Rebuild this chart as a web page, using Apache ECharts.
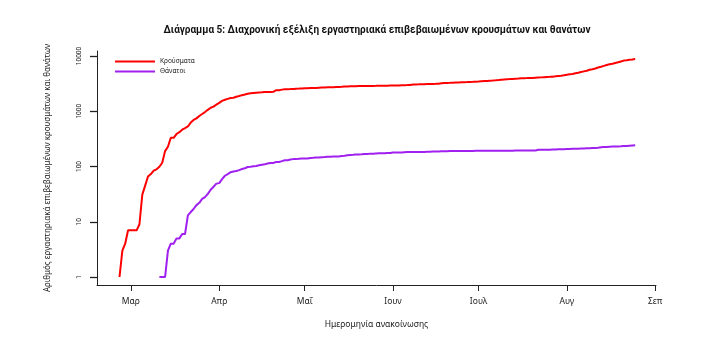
<!DOCTYPE html>
<html><head><meta charset="utf-8">
<script src="https://cdn.jsdelivr.net/npm/echarts@6/dist/echarts.min.js"></script>
<style>html,body{margin:0;padding:0;background:#fff}#c{width:703px;height:346px}</style>
</head><body><div id="c"></div>
<script>
const titleText = 'Διάγραμμα 5: Διαχρονική εξέλιξη εργαστηριακά επιβεβαιωμένων κρουσμάτων και θανάτων';
const xAxisTitle = 'Ημερομηνία ανακοίνωσης';
const yAxisTitle = 'Αριθμός εργαστηριακά επιβεβαιωμένων κρουσμάτων και θανάτων';
const seriesNames = ['Κρούσματα', 'Θάνατοι'];
const monthLabels = ['Μαρ', 'Απρ', 'Μαΐ', 'Ιουν', 'Ιουλ', 'Αυγ', 'Σεπ'];
const monthStarts = ['2020-03-01', '2020-04-01', '2020-05-01', '2020-06-01', '2020-07-01', '2020-08-01', '2020-09-01'];

// Cumulative cases, one value per day starting at caseStart
const caseStart = '2020-02-26';
const cases = [
  1, 3, 4, 7,
  7, 7, 7, 9, 31, 45, 66, 73, 84, 89, 99, 117, 190, 228, 331, 331, 387, 418, 464, 495, 530, 624, 695, 743, 821, 892, 966, 1061, 1156, 1212, 1314,
  1415, 1544, 1613, 1673, 1735, 1755, 1832, 1884, 1955, 2011, 2081, 2114, 2145, 2170, 2192, 2207, 2224, 2235, 2235, 2245, 2401, 2408, 2463, 2490, 2506, 2517, 2534, 2566, 2576, 2591,
  2612, 2620, 2626, 2632, 2642, 2663, 2678, 2691, 2710, 2716, 2726, 2744, 2760, 2770, 2810, 2819, 2834, 2836, 2840, 2850, 2853, 2853, 2874, 2876, 2878, 2882, 2892, 2903, 2906, 2909, 2915,
  2917, 2918, 2937, 2952, 2967, 2980, 2997, 3049, 3058, 3068, 3083, 3088, 3102, 3112, 3121, 3134, 3148, 3203, 3237, 3256, 3266, 3287, 3302, 3310, 3343, 3366, 3376, 3390, 3409, 3432,
  3458, 3486, 3511, 3519, 3562, 3590, 3622, 3672, 3732, 3772, 3803, 3826, 3854, 3883, 3910, 3939, 3964, 3983, 4007, 4012, 4048, 4077, 4103, 4135, 4166, 4193, 4227, 4279, 4336, 4381, 4477,
  4587, 4662, 4737, 4855, 4977, 5123, 5270, 5421, 5623, 5749, 5942, 6177, 6381, 6632, 6858, 7075, 7222, 7472, 7684, 7975, 8259, 8381, 8544, 8649, 8810
];

// Cumulative deaths, one value per day starting at deathStart
const deathStart = '2020-03-11';
const deaths = [
  1, 1, 1, 3, 4, 4, 5, 5, 6, 6, 13, 15, 17, 20, 22, 26, 28, 32, 38, 43, 49,
  50, 59, 68, 73, 79, 81, 83, 86, 90, 93, 98, 99, 101, 102, 105, 108, 110, 113, 116, 116, 121, 121, 125, 130, 130, 134, 136, 136, 138, 139,
  140, 140, 143, 144, 146, 146, 147, 148, 150, 150, 151, 151, 152, 155, 156, 160, 162, 163, 165, 165, 166, 168, 169, 171, 171, 172, 173, 173, 173, 175, 175,
  179, 179, 180, 180, 182, 183, 183, 183, 183, 183, 183, 183, 184, 184, 186, 187, 187, 188, 188, 189, 190, 190, 190, 190, 190, 190, 190, 191, 191, 192,
  192, 192, 192, 192, 192, 192, 192, 192, 193, 193, 193, 193, 193, 194, 194, 194, 194, 195, 195, 195, 195, 201, 201, 202, 202, 202, 203, 203, 206, 206, 206,
  208, 208, 209, 210, 210, 211, 212, 213, 213, 216, 216, 218, 223, 226, 226, 228, 229, 230, 231, 232, 235, 236, 238, 240, 242
];

const DAY = 86400000;
const ORIGIN = Date.UTC(2020, 2, 1);
function dayOf(s) { const p = s.split('-').map(Number); return (Date.UTC(p[0], p[1] - 1, p[2]) - ORIGIN) / DAY; }
function toPairs(start, vals) { const d0 = dayOf(start); return vals.map((v, i) => [d0 + i, v]); }
const monthDays = monthStarts.map(dayOf);
const XMIN = -11.9, XMAX = 184.3;
const FONT = "'Noto Sans', 'DejaVu Sans', sans-serif";
const AXC = '#222';

const chart = echarts.init(document.getElementById('c'), null, { renderer: 'canvas' });
chart.setOption({
  animation: false,
  backgroundColor: '#fff',
  title: {
    text: titleText, left: 377, top: 25, textAlign: 'center', padding: 0,
    textStyle: { fontFamily: "Roboto, 'Noto Sans', sans-serif", fontWeight: 'bold', fontSize: 10, color: '#111' }
  },
  legend: {
    orient: 'vertical', left: 110, top: 53, itemWidth: 40, itemHeight: 2, itemGap: 3, icon: 'rect',
    data: seriesNames, textStyle: { fontFamily: FONT, fontSize: 6.5, color: '#222' }
  },
  grid: [
    { left: 97, right: 47, top: 51, bottom: 61 },
    { left: 97, right: 47, top: 56, bottom: 69 }
  ],
  xAxis: [
    {
      gridIndex: 0, type: 'value', min: XMIN, max: XMAX,
      axisLine: { show: true, onZero: false, lineStyle: { color: AXC, width: 1 } },
      axisTick: { show: true, length: 6, customValues: monthDays, lineStyle: { color: AXC } },
      axisLabel: {
        customValues: monthDays, margin: 12, fontSize: 8.5, fontFamily: FONT, color: '#222',
        formatter: v => { const i = monthDays.findIndex(d => Math.abs(d - v) < 0.01); return i >= 0 ? monthLabels[i] : ''; }
      },
      splitLine: { show: false },
      name: xAxisTitle, nameLocation: 'middle', nameGap: 35,
      nameTextStyle: { fontFamily: FONT, fontSize: 8.5, color: '#222' }
    },
    { gridIndex: 1, type: 'value', min: XMIN, max: XMAX, show: false, axisLine: { onZero: false } }
  ],
  yAxis: [
    {
      gridIndex: 0, type: 'value', min: 0, max: 1,
      axisLine: { show: true, onZero: false, lineStyle: { color: AXC, width: 1 } },
      axisTick: { show: false }, axisLabel: { show: false }, splitLine: { show: false },
      name: yAxisTitle, nameLocation: 'middle', nameGap: 45,
      nameTextStyle: { fontFamily: FONT, fontSize: 8, color: '#222' }
    },
    {
      gridIndex: 1, type: 'log', logBase: 10, min: 1, max: 10000,
      axisLine: { show: true, onZero: false, lineStyle: { color: AXC, width: 1 } },
      axisTick: { show: true, length: 7, lineStyle: { color: AXC, width: 1.3 } },
      axisLabel: { rotate: 90, margin: 14, fontSize: 6.5, fontFamily: "Roboto, 'Noto Sans', sans-serif", color: '#222', formatter: v => String(Math.round(v)) },
      splitLine: { show: true, lineStyle: { opacity: 0 } }
    }
  ],
  series: [
    {
      name: seriesNames[0], type: 'line', xAxisIndex: 1, yAxisIndex: 1, data: toPairs(caseStart, cases),
      showSymbol: false, symbol: 'none', lineStyle: { color: '#FF0000', width: 2 }, itemStyle: { color: '#FF0000' }, silent: true
    },
    {
      name: seriesNames[1], type: 'line', xAxisIndex: 1, yAxisIndex: 1, data: toPairs(deathStart, deaths),
      showSymbol: false, symbol: 'none', lineStyle: { color: '#A020F0', width: 2 }, itemStyle: { color: '#A020F0' }, silent: true
    }
  ]
});
</script></body></html>
